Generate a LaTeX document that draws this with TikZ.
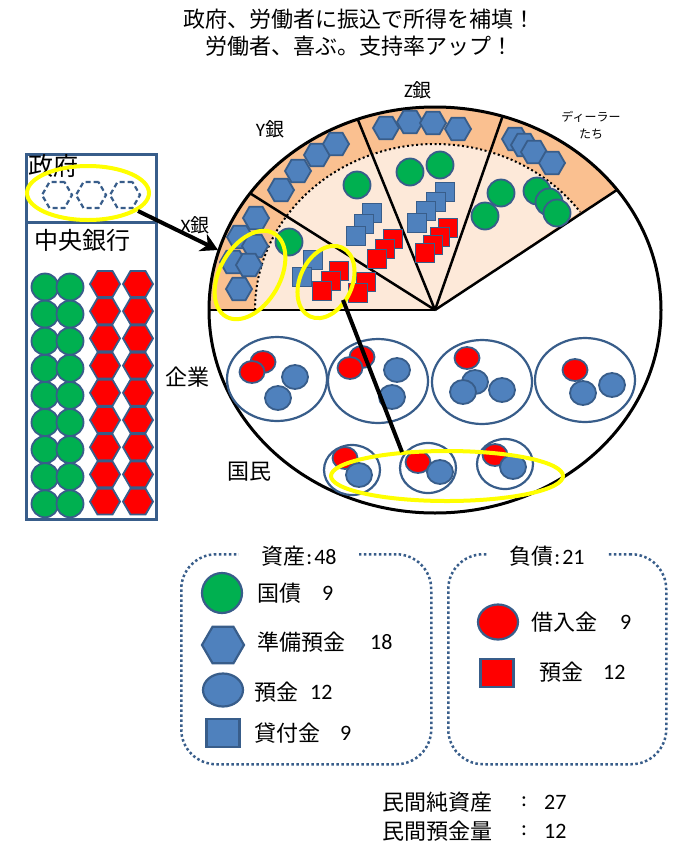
\documentclass[tikz,border=0pt]{standalone}
\usepackage{fontspec}
\setmainfont{Carlito}
\newfontfamily\jp{Noto Sans CJK JP}
\usetikzlibrary{shapes.geometric,arrows.meta}
\definecolor{bfill}{HTML}{4F81BD}
\definecolor{bline}{HTML}{385D8A}
\definecolor{gfill}{HTML}{00B050}
\definecolor{rfill}{HTML}{FF0000}
\definecolor{ringc}{HTML}{FAC090}
\definecolor{innerc}{HTML}{FDE9D9}
\definecolor{yelc}{HTML}{FFFF00}
\begin{document}
\begin{tikzpicture}[x=1pt,y=-1pt,
  shp/.style={inner sep=0pt, draw=bline, line width=1.8pt},
  hexa/.style={shp, regular polygon, regular polygon sides=6, minimum size=26pt, fill=bfill},
  rhex/.style={hexa, minimum size=30pt, fill=rfill},
  grn/.style={shp, circle, minimum size=27pt, fill=gfill},
  bsq/.style={shp, rectangle, minimum size=19pt, fill=bfill},
  rsq/.style={bsq, fill=rfill},
  bci/.style={shp, ellipse, minimum width=26pt, minimum height=24pt, fill=bfill},
  rci/.style={bci, minimum width=25pt, minimum height=22pt, fill=rfill},
  ghex/.style={regular polygon, regular polygon sides=6, minimum size=30pt, inner sep=0pt, draw=bline, line width=2.2pt, dash pattern=on 5pt off 3pt},
  yring/.style={ellipse, draw=yelc, line width=4pt, inner sep=0pt},
  firm/.style={ellipse, draw=bline, line width=2.2pt, inner sep=0pt, minimum width=100pt, minimum height=84pt},
  pers/.style={ellipse, draw=bline, line width=2.2pt, inner sep=0pt, minimum width=56pt, minimum height=50pt},
  sector/.style={line width=2.5pt},
  dots/.style={line width=2pt, dash pattern=on 2pt off 2.6pt},
  legbox/.style={draw=bline, line width=2.5pt, dash pattern=on 2.5pt off 2.5pt, rounded corners=35pt, inner sep=0pt, anchor=north west},
  panel/.style={draw=bline, line width=2.5pt, inner sep=0pt, anchor=north west},
  jt/.style={font=\jp\fontsize{22}{26}\selectfont, inner sep=0pt},
  nt/.style={font=\fontsize{22}{26}\selectfont, inner sep=0pt},
]
\useasboundingbox[fill=white] (0,0) rectangle (695,865);

% title
\node[jt, align=center, font=\jp\fontsize{22}{27}\selectfont] (title) at (359,33)
  {政府、労働者に振込で所得を補填！\\労働者、喜ぶ。支持率アップ！};

% ---------- government / central bank panel
\node[panel, minimum width=130pt, minimum height=68pt] (govbox) at (25,153) {};
\node[panel, minimum width=130pt, minimum height=297pt] (cbbox) at (25,221) {};
\node[jt, anchor=west, font=\jp\fontsize{25}{25}\selectfont] (tgov) at (28,166) {政府};
\node[jt, anchor=west, font=\jp\fontsize{24}{24}\selectfont] (tcb) at (34,240) {中央銀行};
\foreach \x [count=\i] in {57,91,125} \node[ghex] (gh\i) at (\x,195) {};
\node[yring, minimum width=122pt, minimum height=54pt] (ygov) at (88,193) {};
\foreach \r in {0,...,8} {
  \node[grn] (cga\r) at (45,287+27.1*\r) {};
  \node[grn] (cgb\r) at (70,287+27.1*\r) {};
  \node[rhex] (cra\r) at (105,284+27.2*\r) {};
  \node[rhex] (crb\r) at (138,284+27.2*\r) {};
}

% ---------- big circle with sectors
\coordinate (C) at (435,310);
\fill[ringc] (C) -- ([xshift=-226pt]C) arc[start angle=-180, end angle=-36.3, x radius=226, y radius=203] -- cycle;
\fill[innerc] (C) -- ([xshift=-180pt]C) arc[start angle=-180, end angle=-36.3, x radius=180, y radius=166] -- cycle;
\draw[dots] ([xshift=-180pt]C) arc[start angle=-180, end angle=-36.3, x radius=180, y radius=166];
\draw[line width=3pt] (C) ellipse[x radius=226, y radius=203];
\path (C) ++(-180:226 and 203) coordinate (dL);
\path (C) ++(-144.9:226 and 203) coordinate (dXY);
\path (C) ++(-110:226 and 203) coordinate (dYZ);
\path (C) ++(-72.6:226 and 203) coordinate (dZD);
\path (C) ++(-36.3:226 and 203) coordinate (dR);
\foreach \e in {dL,dXY,dYZ,dZD,dR} \draw[sector] (C) -- (\e);

% X bank
\foreach \x/\y [count=\i] in {256/218,240/237,255/246,233/262,249/265,239/289} \node[hexa] (xh\i) at (\x,\y) {};
\node[grn] (xg1) at (289,242) {};
\foreach \x/\y [count=\i] in {313/260,302/277} \node[bsq] (xb\i) at (\x,\y) {};
\foreach \x/\y [count=\i] in {339/271,331/281,322/291,366/282,358/293} \node[rsq] (xr\i) at (\x,\y) {};
% Y bank
\foreach \x/\y [count=\i] in {281/190,298/171,317/155,336/144} \node[hexa] (yh\i) at (\x,\y) {};
\node[grn] (yg1) at (357,185) {};
\foreach \x/\y [count=\i] in {372/213,364/224,356/236} \node[bsq] (yb\i) at (\x,\y) {};
\foreach \x/\y [count=\i] in {393/239,385/249,377/259} \node[rsq] (yr\i) at (\x,\y) {};
% Z bank
\foreach \x/\y [count=\i] in {386/128,410/122,433/123,458/129} \node[hexa] (zh\i) at (\x,\y) {};
\foreach \x/\y [count=\i] in {410/172,440/165} \node[grn] (zg\i) at (\x,\y) {};
\foreach \x/\y [count=\i] in {445/192,436/202,426/211,417/223} \node[bsq] (zb\i) at (\x,\y) {};
\foreach \x/\y [count=\i] in {448/228,440/237,433/245,425/253} \node[rsq] (zr\i) at (\x,\y) {};
% dealers
\foreach \x/\y [count=\i] in {515/139,524/145,534/152,552/163} \node[hexa] (dh\i) at (\x,\y) {};
\foreach \x/\y [count=\i] in {501/193,485/216,537/191,549/202,557/213} \node[grn] (dg\i) at (\x,\y) {};

% labels of banks
\node[jt, font=\fontsize{19}{19}\selectfont] (tX) at (195,225) {X{\jp 銀}};
\node[jt, font=\fontsize{19}{19}\selectfont] (tY) at (270,129) {Y{\jp 銀}};
\node[jt, font=\fontsize{19}{19}\selectfont] (tZ) at (418,90) {Z{\jp 銀}};
\node[jt, align=center, font=\jp\fontsize{12}{17}\selectfont] (tD) at (591,125) {ディーラー\\たち};

% firms
\node[jt] (tfirm) at (187,377) {企業};
\foreach \x/\y [count=\i] in {277/379,378/381,482/382,585/380} \node[firm] (f\i) at (\x,\y) {};
\node[rci] (f1r1) at (263,362) {}; \node[rci] (f1r2) at (252,372) {};
\node[bci] (f1b1) at (295,377) {}; \node[bci] (f1b2) at (278,398) {};
\node[rci] (f2r1) at (362,357) {}; \node[rci] (f2r2) at (350,368) {};
\node[bci] (f2b1) at (397,370) {}; \node[bci] (f2b2) at (392,397) {};
\node[rci] (f3r1) at (467,358) {};
\node[bci] (f3b1) at (475,382) {}; \node[bci] (f3b2) at (463,392) {}; \node[bci] (f3b3) at (502,390) {};
\node[rci] (f4r1) at (575,370) {};
\node[bci] (f4b1) at (583,393) {}; \node[bci] (f4b2) at (612,385) {};

% people
\node[jt] (tppl) at (249,472) {国民};
\foreach \x/\y [count=\i] in {352/470,428/468,505/464} \node[pers] (p\i) at (\x,\y) {};
\node[rci] (p1r) at (345,458) {}; \node[bci] (p1b) at (359,475) {};
\node[rci] (p2r) at (418,462) {}; \node[bci] (p2b) at (440,472) {};
\node[rci] (p3r) at (495,455) {}; \node[bci] (p3b) at (513,467) {};

% highlights
\node[yring, minimum width=60pt, minimum height=96pt, rotate=-30] (yxh) at (250,275) {};
\node[yring, minimum width=52pt, minimum height=76pt, rotate=-25] (yxs) at (326,282) {};
\node[yring, minimum width=232pt, minimum height=50pt] (yppl) at (447,476) {};
\coordinate (lnA) at (343,300);
\coordinate (lnB) at (402,452);
\draw[line width=4pt] (lnA) -- (lnB);
\coordinate (arA) at (138,211);
\coordinate (arB) at (218,250);
\draw[line width=4pt, -{Stealth[length=17pt, width=19pt]}] (arA) -- (arB);

% ---------- legend
\node[legbox, minimum width=250pt, minimum height=210pt] (lbox) at (180,553) {};
\node[legbox, minimum width=218pt, minimum height=210pt] (rbox) at (447,553) {};
\node[jt, fill=white, inner xsep=22pt, inner ysep=3pt] (ltit) at (299,556) {資産\hspace{1pt}{\rmfamily :\hspace{2pt}48}};
\node[jt, fill=white, inner xsep=22pt, inner ysep=3pt] (rtit) at (547,556) {負債\hspace{1pt}{\rmfamily :\hspace{2pt}21}};

\node[grn, minimum size=40pt, line width=2.2pt] (lg) at (222,593) {};
\node[hexa, minimum size=42pt, line width=2.2pt] (lh) at (223,645) {};
\node[bci, minimum width=40pt, minimum height=33pt, line width=2.2pt] (lb) at (223,690) {};
\node[bsq, minimum width=33pt, minimum height=28pt, line width=2.2pt] (ls) at (223,733) {};
\node[rci, minimum width=40pt, minimum height=35pt, line width=2.2pt] (lr) at (498,622) {};
\node[rsq, minimum width=33pt, minimum height=28pt, line width=2.2pt] (lrs) at (497,673) {};

\node[jt, anchor=west] (t1) at (257,593) {国債};
\node[nt, anchor=west] (n1) at (322,593) {9};
\node[jt, anchor=west] (t2) at (257,642) {準備預金};
\node[nt, anchor=west] (n2) at (370,642) {18};
\node[jt, anchor=west] (t3) at (254,692) {預金};
\node[nt, anchor=west] (n3) at (310,692) {12};
\node[jt, anchor=west] (t4) at (254,733) {貸付金};
\node[nt, anchor=west] (n4) at (340,733) {9};
\node[jt, anchor=west] (t5) at (531,622) {借入金};
\node[nt, anchor=west] (n5) at (620,622) {9};
\node[jt, anchor=west] (t6) at (539,672) {預金};
\node[nt, anchor=west] (n6) at (603,672) {12};

% bottom summary
\node[jt, anchor=west] (s1) at (382,802) {民間純資産};
\node[nt] (c1) at (524,802) {:};
\node[nt, anchor=west] (v1) at (544,802) {27};
\node[jt, anchor=west] (s2) at (382,831) {民間預金量};
\node[nt] (c2) at (524,831) {:};
\node[nt, anchor=west] (v2) at (544,831) {12};
\end{tikzpicture}
\end{document}
